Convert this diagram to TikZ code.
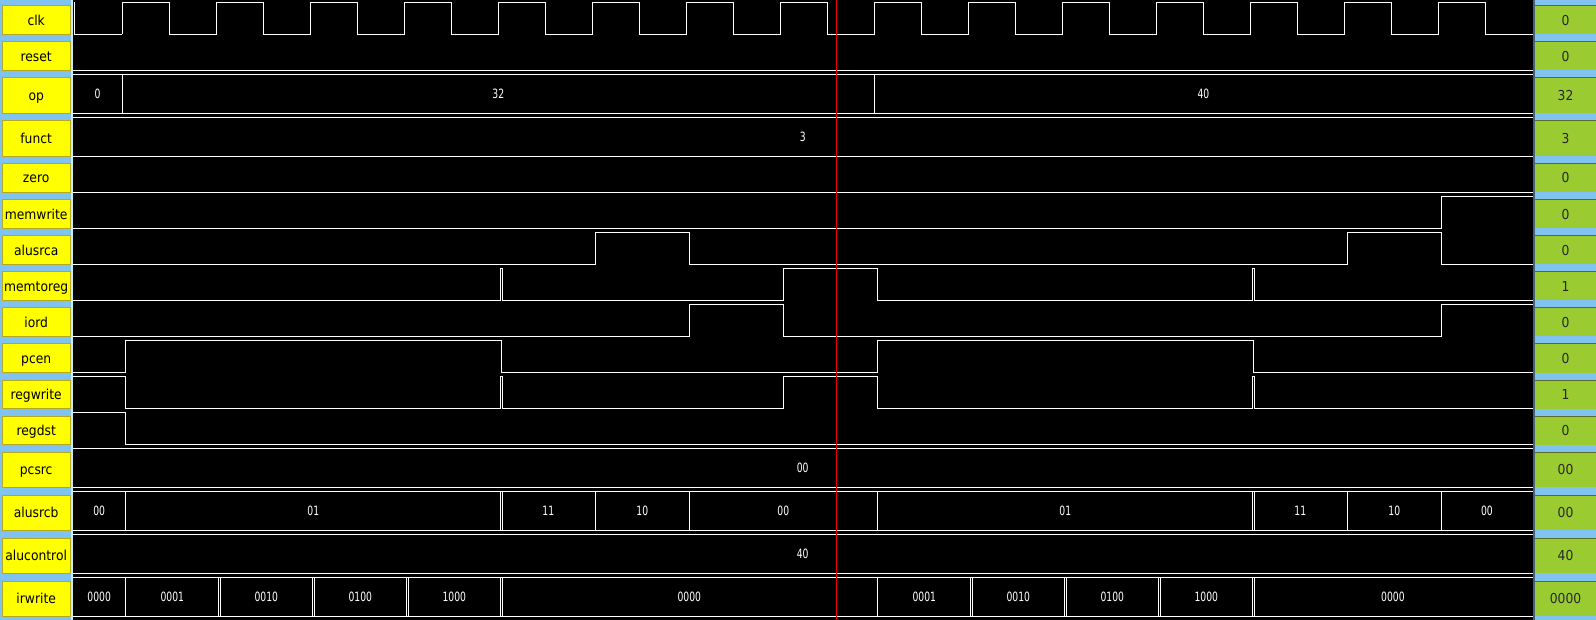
\documentclass[tikz,border=0pt]{standalone}
\usepackage{fontspec}
\setmainfont{DejaVu Sans}
\newfontfamily\namefont[FakeStretch=0.9]{DejaVu Sans}
\newfontfamily\busfont[FakeStretch=0.72]{DejaVu Sans}
\usetikzlibrary{positioning}

\definecolor{panelblue}{RGB}{128,194,240}
\definecolor{edgecyan}{RGB}{200,236,246}
\definecolor{slate}{RGB}{70,95,125}
\definecolor{sigyellow}{RGB}{255,255,0}
\definecolor{yellowedge}{RGB}{180,168,30}
\definecolor{valgreen}{RGB}{154,204,50}
\definecolor{greenedge}{RGB}{88,110,40}
\definecolor{cursorred}{RGB}{235,0,0}

\begin{document}
\begin{tikzpicture}[x=0.5pt, y=-0.5pt,
    wave/.style={white, line width=0.5pt},
    namelbl/.style={font={\namefont\fontsize{6.85pt}{8pt}\selectfont}, text=black,
        inner sep=0pt, text height=5pt, text depth=0pt},
    vallbl/.style={font={\namefont\fontsize{6.85pt}{8pt}\selectfont}, text=black!85,
        inner sep=0pt, text height=5pt, text depth=0pt},
    busval/.style={font={\busfont\fontsize{6.4pt}{8pt}\selectfont}, text=white,
        inner sep=0pt}]

    \useasboundingbox (0,0) rectangle (1596,620);

    % panels
    \fill[black] (73,0) rectangle (1532.5,620);
    \fill[panelblue] (0,0) rectangle (71,620);
    \fill[edgecyan] (71,0) rectangle (73,620);
    \fill[slate] (1532.5,0) rectangle (1535,620);
    \fill[panelblue] (1535,0) rectangle (1596,620);

    % signal names and cursor values
    \foreach \nm/\bt/\h/\val in {clk/6/28.5/0, reset/42/28.5/0, op/78/35.3/32,
        funct/121/35.3/3, zero/163.6/28.5/0, memwrite/199.8/28.5/0,
        alusrca/236/28.5/0, memtoreg/272/28.5/1, iord/308/28.5/0,
        pcen/344/28.5/0, regwrite/380/28.5/1, regdst/416/28.5/0,
        pcsrc/452/35.3/00, alusrcb/495/35.3/00, alucontrol/538/35.3/40,
        irwrite/581/35.3/0000} {
        \filldraw[fill=sigyellow, draw=yellowedge, line width=0.5pt]
            (2.5,\bt) rectangle (70,{\bt+\h});
        \node[namelbl] (\nm-name) at (36.2,{\bt+\h/2}) {\nm};
        \fill[valgreen] (1535,\bt) rectangle (1596,{\bt+\h});
        \draw[greenedge, line width=0.5pt] (1535,\bt) -- (1596,\bt);
        \node[vallbl] (\nm-val) at (1565.5,{\bt+\h/2}) {\val};
    }

    % clk
    \draw[wave] (74,2.3) -- (74,34.5) -- (122.3,34.5);
    \foreach \k in {0,...,14}
        \draw[wave] ({122.3+94*\k},34.5) -- ++(0,-32.2) -- ++(47,0) -- ++(0,32.2) -- ++(47.2,0);

    % reset
    \draw[wave] (73,70.5) -- (1532.5,70.5);

    % op
    \draw[wave] (73,74.3) -- (1532.5,74.3) (73,113.3) -- (1532.5,113.3);
    \foreach \x in {122.3,874.3}
        \draw[wave] (\x,74.3) -- (\x,113.3);
    \foreach \a/\b/\v [count=\i] in {73/122.3/0, 122.3/874.3/32, 874.3/1532.5/40}
        \node[busval] (op-\i) at ({(\a+\b)/2},93.8) {\v};

    % funct
    \draw[wave] (73,117.3) -- (1532.5,117.3) (73,156.3) -- (1532.5,156.3);
    \node[busval] (funct-1) at (802.7,136.8) {3};

    % zero
    \draw[wave] (73,192.1) -- (1532.5,192.1);

    % memwrite
    \draw[wave] (73,228.3) -- (1441.3,228.3) -- (1441.3,196.1) -- (1532.5,196.1);

    % alusrca
    \draw[wave] (73,264.5) -- (595.3,264.5) -- (595.3,232.3) -- (689.3,232.3)
        -- (689.3,264.5) -- (1347.3,264.5) -- (1347.3,232.3) -- (1441.3,232.3)
        -- (1441.3,264.5) -- (1532.5,264.5);

    % memtoreg
    \draw[wave] (73,300.5) -- (500.3,300.5) -- (500.3,268.3) -- (502.3,268.3)
        -- (502.3,300.5) -- (783.3,300.5) -- (783.3,268.3) -- (877.3,268.3)
        -- (877.3,300.5) -- (1252.3,300.5) -- (1252.3,268.3) -- (1254.3,268.3)
        -- (1254.3,300.5) -- (1532.5,300.5);

    % iord
    \draw[wave] (73,336.5) -- (689.3,336.5) -- (689.3,304.3) -- (783.3,304.3)
        -- (783.3,336.5) -- (1441.3,336.5) -- (1441.3,304.3) -- (1532.5,304.3);

    % pcen
    \draw[wave] (73,372.5) -- (125.3,372.5) -- (125.3,340.3) -- (501.3,340.3)
        -- (501.3,372.5) -- (877.3,372.5) -- (877.3,340.3) -- (1253.3,340.3)
        -- (1253.3,372.5) -- (1532.5,372.5);

    % regwrite
    \draw[wave] (73,376.3) -- (125.3,376.3) -- (125.3,408.5) -- (500.3,408.5)
        -- (500.3,376.3) -- (502.3,376.3) -- (502.3,408.5) -- (783.3,408.5)
        -- (783.3,376.3) -- (877.3,376.3) -- (877.3,408.5) -- (1252.3,408.5)
        -- (1252.3,376.3) -- (1254.3,376.3) -- (1254.3,408.5) -- (1532.5,408.5);

    % regdst
    \draw[wave] (73,412.3) -- (125.3,412.3) -- (125.3,444.5) -- (1532.5,444.5);

    % pcsrc
    \draw[wave] (73,448.3) -- (1532.5,448.3) (73,487.3) -- (1532.5,487.3);
    \node[busval] (pcsrc-1) at (802.7,467.8) {00};

    % alusrcb
    \draw[wave] (73,491.3) -- (1532.5,491.3) (73,530.3) -- (1532.5,530.3);
    \foreach \x in {125.3,500.3,502.3,595.3,689.3,877.3,1252.3,1254.3,1347.3,1441.3}
        \draw[wave] (\x,491.3) -- (\x,530.3);
    \foreach \a/\b/\v [count=\i] in {73/125.3/00, 125.3/501.3/01, 501.3/595.3/11,
        595.3/689.3/10, 689.3/877.3/00, 877.3/1253.3/01, 1253.3/1347.3/11,
        1347.3/1441.3/10, 1441.3/1532.5/00}
        \node[busval] (alusrcb-\i) at ({(\a+\b)/2},510.8) {\v};

    % alucontrol
    \draw[wave] (73,534.3) -- (1532.5,534.3) (73,573.3) -- (1532.5,573.3);
    \node[busval] (alucontrol-1) at (802.7,553.8) {40};

    % irwrite
    \draw[wave] (73,577.3) -- (1532.5,577.3) (73,616.3) -- (1532.5,616.3);
    \foreach \x in {125.3,218.3,220.3,312.3,314.3,406.3,408.3,500.3,502.3,877.3,
        970.3,972.3,1064.3,1066.3,1158.3,1160.3,1252.3,1254.3}
        \draw[wave] (\x,577.3) -- (\x,616.3);
    \foreach \a/\b/\v [count=\i] in {73/125.3/0000, 125.3/219.3/0001, 219.3/313.3/0010,
        313.3/407.3/0100, 407.3/501.3/1000, 501.3/877.3/0000, 877.3/971.3/0001,
        971.3/1065.3/0010, 1065.3/1159.3/0100, 1159.3/1253.3/1000, 1253.3/1532.5/0000}
        \node[busval] (irwrite-\i) at ({(\a+\b)/2},596.8) {\v};

    % cursor
    \draw[cursorred, line width=0.5pt] (836.3,0) -- (836.3,620);
\end{tikzpicture}
\end{document}
